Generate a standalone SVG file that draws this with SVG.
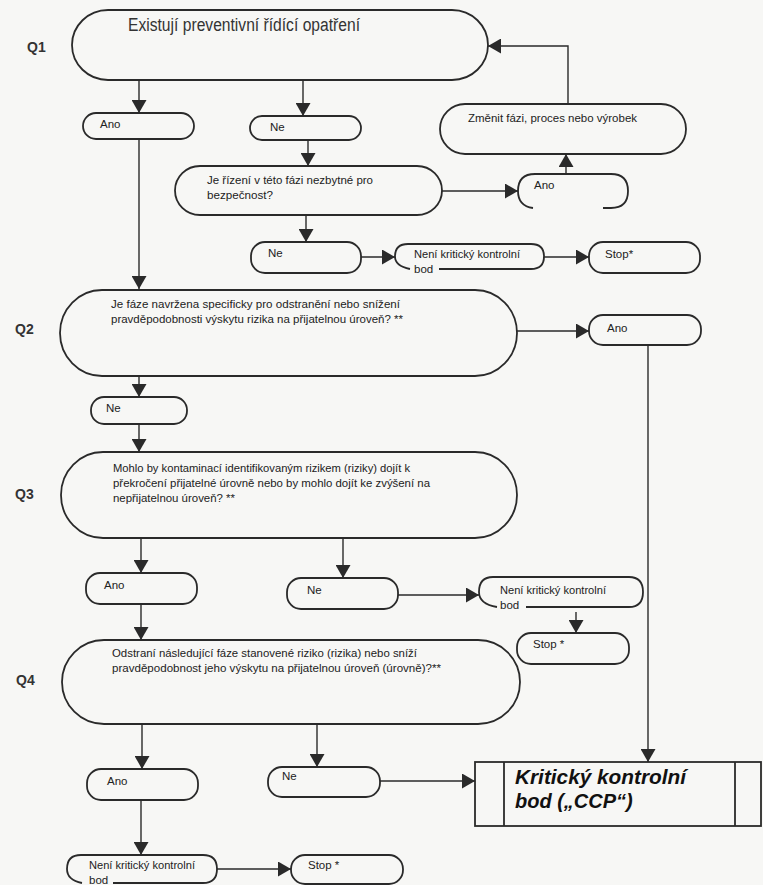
<svg xmlns="http://www.w3.org/2000/svg" width="763" height="885" viewBox="0 0 763 885">
<defs>
<marker id="ah" markerUnits="userSpaceOnUse" markerWidth="14" markerHeight="15" refX="13" refY="7.5" orient="auto">
<path d="M0,0 L13,7.5 L0,15 z" fill="#2a2a2a"/>
</marker>
<style>
.bx{fill:none;stroke:#2a2a2a;stroke-width:1.8}
.c{fill:none;stroke:#2a2a2a;stroke-width:1.4;marker-end:url(#ah)}
.l{fill:none;stroke:#2a2a2a;stroke-width:1.4}
.t{font-family:"Liberation Sans",Arial,sans-serif;font-size:11.5px;fill:#222}
.tt{font-family:"Liberation Sans",Arial,sans-serif;font-size:18px;fill:#333}
.q{font-family:"Liberation Sans",Arial,sans-serif;font-size:14px;font-weight:bold;fill:#333}
.ccp{font-family:"Liberation Sans",Arial,sans-serif;font-size:20px;font-weight:bold;font-style:italic;fill:#111}
</style>
</defs>
<rect x="0" y="0" width="763" height="885" fill="#f7f7f5"/>

<g id="labels">
<text class="q" x="27" y="52">Q1</text>
<text class="q" x="15" y="334">Q2</text>
<text class="q" x="15" y="499">Q3</text>
<text class="q" x="16" y="685">Q4</text>
</g>

<g id="q1">
<rect class="bx" x="72" y="10" width="416" height="70" rx="36" ry="35"/>
<text class="tt" x="128" y="31" textLength="232" lengthAdjust="spacingAndGlyphs">Existují preventivní řídící opatření</text>
</g>
<g id="q1-ano">
<rect class="bx" x="83" y="113" width="111" height="26" rx="13"/>
<text class="t" x="100" y="128">Ano</text>
</g>
<g id="q1-ne">
<rect class="bx" x="250" y="116" width="111" height="24" rx="12"/>
<text class="t" x="270" y="131">Ne</text>
</g>
<g id="je-rizeni">
<rect class="bx" x="175" y="166" width="267" height="49" rx="25"/>
<text class="t" x="207" y="184" textLength="166" lengthAdjust="spacingAndGlyphs">Je řízení v této fázi nezbytné pro</text>
<text class="t" x="207" y="199" textLength="66" lengthAdjust="spacingAndGlyphs">bezpečnost?</text>
</g>
<g id="je-ano">
<path class="bx" d="M533,208 Q518,206 518,191 Q518,174 535,174 L611,174 Q628,174 628,191 Q628,208 611,208 L603,208"/>
<text class="t" x="534" y="189">Ano</text>
</g>
<g id="zmenit">
<rect class="bx" x="440" y="104" width="246" height="50" rx="25"/>
<text class="t" x="468" y="122" textLength="169" lengthAdjust="spacingAndGlyphs">Změnit fázi, proces nebo výrobek</text>
</g>
<g id="je-ne">
<rect class="bx" x="251" y="242" width="110" height="31" rx="14"/>
<text class="t" x="268" y="257">Ne</text>
</g>
<g id="neni-1">
<path class="bx" d="M439,269 L531,269 Q544,269 544,256.5 Q544,244 531,244 L408,244 Q395,244 395,256.5 Q395,266 410,269"/>
<text class="t" x="414" y="258" textLength="106" lengthAdjust="spacingAndGlyphs">Není kritický kontrolní</text>
<text class="t" x="414" y="273">bod</text>
</g>
<g id="stop-1">
<rect class="bx" x="589" y="242" width="111" height="31" rx="14"/>
<text class="t" x="605" y="258">Stop*</text>
</g>

<g id="q2">
<rect class="bx" x="60" y="290" width="457" height="86" rx="42" ry="43"/>
<text class="t" x="111" y="308" textLength="289" lengthAdjust="spacingAndGlyphs">Je fáze navržena specificky pro odstranění nebo snížení</text>
<text class="t" x="111" y="323" textLength="292" lengthAdjust="spacingAndGlyphs">pravděpodobnosti výskytu rizika na přijatelnou úroveň? **</text>
</g>
<g id="q2-ano">
<rect class="bx" x="589" y="315" width="112" height="30" rx="14"/>
<text class="t" x="607" y="332">Ano</text>
</g>
<g id="q2-ne">
<rect class="bx" x="91" y="397" width="96" height="27" rx="13"/>
<text class="t" x="106" y="412">Ne</text>
</g>

<g id="q3">
<rect class="bx" x="61" y="452" width="456" height="86" rx="42" ry="43"/>
<text class="t" x="113" y="472" textLength="297" lengthAdjust="spacingAndGlyphs">Mohlo by kontaminací identifikovaným rizikem (riziky) dojít k</text>
<text class="t" x="113" y="487" textLength="317" lengthAdjust="spacingAndGlyphs">překročení přijatelné úrovně nebo by mohlo dojít ke zvýšení na</text>
<text class="t" x="113" y="502" textLength="122" lengthAdjust="spacingAndGlyphs">nepřijatelnou úroveň? **</text>
</g>
<g id="q3-ano">
<rect class="bx" x="86" y="573" width="111" height="31" rx="14"/>
<text class="t" x="104" y="589">Ano</text>
</g>
<g id="q3-ne">
<rect class="bx" x="287" y="578" width="111" height="31" rx="14"/>
<text class="t" x="307" y="594">Ne</text>
</g>
<g id="neni-3">
<path class="bx" d="M526,607 L629,607 Q643,607 643,592 Q643,577 629,577 L493,577 Q479,577 479,592 Q479,604 497,607"/>
<text class="t" x="500" y="594" textLength="106" lengthAdjust="spacingAndGlyphs">Není kritický kontrolní</text>
<text class="t" x="500" y="609">bod</text>
</g>
<g id="stop-3">
<rect class="bx" x="517" y="633" width="112" height="31" rx="14"/>
<text class="t" x="533" y="648">Stop *</text>
</g>

<g id="q4">
<rect class="bx" x="62" y="640" width="458" height="84" rx="42"/>
<text class="t" x="112" y="657" textLength="305" lengthAdjust="spacingAndGlyphs">Odstraní následující fáze stanovené riziko (rizika) nebo sníží</text>
<text class="t" x="112" y="672" textLength="329" lengthAdjust="spacingAndGlyphs">pravděpodobnost jeho výskytu na přijatelnou úroveň (úrovně)?**</text>
</g>
<g id="q4-ano">
<rect class="bx" x="87" y="769" width="111" height="31" rx="14"/>
<text class="t" x="107" y="785">Ano</text>
</g>
<g id="q4-ne">
<rect class="bx" x="268" y="767" width="112" height="30" rx="14"/>
<text class="t" x="282" y="780">Ne</text>
</g>
<g id="ccp">
<rect class="bx" x="475" y="762" width="286" height="64"/>
<line class="bx" x1="504" y1="762" x2="504" y2="826"/>
<line class="bx" x1="735" y1="762" x2="735" y2="826"/>
<text class="ccp" x="515" y="784" textLength="171" lengthAdjust="spacingAndGlyphs">Kritický kontrolní</text>
<text class="ccp" x="515" y="808">bod („CCP“)</text>
</g>
<g id="neni-4">
<path class="bx" d="M113,883 L203,883 Q217,883 217,869 Q217,855 203,855 L81,855 Q67,855 67,869 Q67,880 82,883"/>
<text class="t" x="89" y="869" textLength="106" lengthAdjust="spacingAndGlyphs">Není kritický kontrolní</text>
<text class="t" x="89" y="884">bod</text>
</g>
<g id="stop-4">
<rect class="bx" x="291" y="855" width="112" height="29" rx="14"/>
<text class="t" x="308" y="869">Stop *</text>
</g>

<g id="connectors">
<path class="c" d="M139,80 L139,113"/>
<path class="c" d="M303,80 L303,116"/>
<path class="c" d="M308,140 L308,166"/>
<path class="c" d="M442,191 L518,191"/>
<path class="c" d="M566,174 L566,154"/>
<path class="c" d="M568,104 L568,46 L488,46"/>
<path class="c" d="M306,215 L306,242"/>
<path class="c" d="M361,257 L395,257"/>
<path class="c" d="M544,257 L589,257"/>
<path class="c" d="M139,139 L139,289"/>
<path class="c" d="M517,331 L589,331"/>
<path class="c" d="M648,345 L648,762"/>
<path class="c" d="M139,376 L139,397"/>
<path class="c" d="M139,424 L139,452"/>
<path class="c" d="M141,538 L141,573"/>
<path class="c" d="M343,538 L343,578"/>
<path class="c" d="M398,595 L479,595"/>
<path class="c" d="M576,612 L576,633"/>
<path class="c" d="M141,604 L141,640"/>
<path class="c" d="M142,724 L142,769"/>
<path class="c" d="M317,724 L317,767"/>
<path class="c" d="M380,781 L475,781"/>
<path class="c" d="M141,800 L141,855"/>
<path class="c" d="M217,869 L291,869"/>
</g>
</svg>
